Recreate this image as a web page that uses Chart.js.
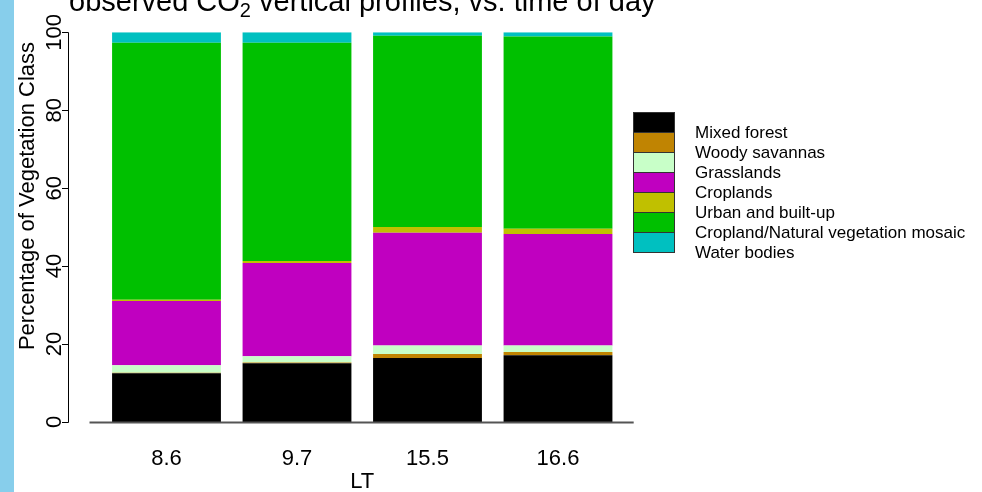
<!DOCTYPE html>
<html>
<head>
<meta charset="utf-8">
<title>Vegetation class by time of day</title>
<script src="https://cdn.jsdelivr.net/npm/chart.js@4/dist/chart.umd.min.js"></script>
<style>
  html, body { margin: 0; padding: 0; background: #ffffff; }
  #wrap { position: relative; width: 982px; height: 492px; }
  canvas { display: block; }
</style>
</head>
<body>
<div id="wrap"><canvas id="chart" width="982" height="492"></canvas></div>
<script>
// Local time of each profile (x categories)
const categories = ['8.6', '9.7', '15.5', '16.6'];

// Vegetation class names, bottom to top of each stack
const classNames = [
  'Mixed forest',
  'Woody savannas',
  'Grasslands',
  'Croplands',
  'Urban and built-up',
  'Cropland/Natural vegetation mosaic',
  'Water bodies'
];

// Percentage of each class per profile
const mixedForest   = [12.5, 15.1, 16.4, 17.1];
const woodySavannas = [0.15, 0.2, 1.05, 0.86];
const grasslands    = [1.9, 1.6, 2.2, 1.7];
const croplands     = [16.5, 23.9, 28.9, 28.6];
const urbanBuiltUp  = [0.3, 0.5, 1.5, 1.3];
const cropMosaic    = [66.0, 56.0, 49.05, 49.35];
const waterBodies   = [2.65, 2.7, 0.9, 1.1];

const yTickValues = [0, 20, 40, 60, 80, 100];

const classColors = ['#000000', '#C08402', '#C8FFC8', '#C000C0', '#C0C000', '#00C000', '#00C0C0'];

const seriesValues = [mixedForest, woodySavannas, grasslands, croplands, urbanBuiltUp, cropMosaic, waterBodies];

const FONT = '"Liberation Sans", Arial, Helvetica, sans-serif';

// Axes, labels, title and legend drawn in base-graphics style around the plot area
const frame = {
  id: 'frame',
  beforeDraw(chart) {
    const ctx = chart.ctx;
    ctx.save();
    ctx.fillStyle = '#87CEEB';
    ctx.fillRect(0, 0, 14, chart.height);
    ctx.restore();
  },
  afterDraw(chart) {
    const ctx = chart.ctx;
    const xs = chart.scales.x;
    const ys = chart.scales.y;
    const area = chart.chartArea;
    const catW = (area.right - area.left) / categories.length;
    const y0 = ys.getPixelForValue(0);
    const yTop = ys.getPixelForValue(100);

    ctx.save();

    // baseline under the bars
    const lineL = xs.getPixelForValue(0) - 0.59 * catW;
    const lineR = xs.getPixelForValue(categories.length - 1) + 0.58 * catW;
    ctx.strokeStyle = '#555555';
    ctx.lineWidth = 2;
    ctx.beginPath();
    ctx.moveTo(lineL, y0 + 0.5);
    ctx.lineTo(lineR, y0 + 0.5);
    ctx.stroke();

    // y axis
    const axX = 68.5;
    ctx.strokeStyle = '#000000';
    ctx.lineWidth = 1;
    ctx.beginPath();
    ctx.moveTo(axX, Math.round(y0) + 0.5);
    ctx.lineTo(axX, Math.round(yTop) + 0.5);
    yTickValues.forEach(v => {
      const py = Math.round(ys.getPixelForValue(v)) + 0.5;
      ctx.moveTo(axX, py);
      ctx.lineTo(62, py);
    });
    ctx.stroke();

    ctx.fillStyle = '#000000';
    ctx.font = '22px ' + FONT;
    ctx.textAlign = 'center';
    ctx.textBaseline = 'alphabetic';
    yTickValues.forEach(v => {
      const py = ys.getPixelForValue(v);
      ctx.save();
      ctx.translate(61, py);
      ctx.rotate(-Math.PI / 2);
      ctx.fillText(String(v), 0, 0);
      ctx.restore();
    });

    // y axis title
    ctx.save();
    ctx.translate(34, 196);
    ctx.rotate(-Math.PI / 2);
    ctx.fillText('Percentage of Vegetation Class', 0, 0);
    ctx.restore();

    // category labels and x axis title
    categories.forEach((c, i) => {
      ctx.fillText(c, xs.getPixelForValue(i), 465);
    });
    ctx.fillText('LT', (area.left + area.right) / 2, 488);

    // title with subscript
    const t1 = 'observed CO';
    const t2 = '2';
    const t3 = ' vertical profiles, vs. time of day';
    ctx.font = '29px ' + FONT;
    const w1 = ctx.measureText(t1).width;
    const w3 = ctx.measureText(t3).width;
    ctx.font = '20px ' + FONT;
    const w2 = ctx.measureText(t2).width;
    const total = w1 + w2 + w3;
    let tx = (area.left + area.right) / 2 - total / 2;
    ctx.textAlign = 'left';
    ctx.font = '29px ' + FONT;
    ctx.fillText(t1, tx, 11);
    tx += w1;
    ctx.font = '20px ' + FONT;
    ctx.fillText(t2, tx, 17);
    tx += w2;
    ctx.font = '29px ' + FONT;
    ctx.fillText(t3, tx, 11);

    // legend
    const boxL = 633.5, boxW = 41, boxTop = 112.5, boxH = 20;
    ctx.font = '17px ' + FONT;
    ctx.textAlign = 'left';
    classNames.forEach((name, i) => {
      const by = boxTop + i * boxH;
      ctx.fillStyle = classColors[i];
      ctx.fillRect(boxL, by, boxW, boxH);
      ctx.strokeStyle = '#333333';
      ctx.lineWidth = 1;
      ctx.strokeRect(boxL, by, boxW, boxH);
      ctx.fillStyle = '#000000';
      ctx.fillText(name, 695, by + boxH + 5.5);
    });

    ctx.restore();
  }
};

const datasets = classNames.map((name, i) => ({
  label: name,
  data: seriesValues[i],
  backgroundColor: classColors[i],
  borderWidth: 0,
  barPercentage: 0.834,
  categoryPercentage: 1.0
}));

new Chart(document.getElementById('chart'), {
  type: 'bar',
  data: { labels: categories, datasets },
  options: {
    responsive: false,
    animation: false,
    devicePixelRatio: 1,
    layout: { padding: { left: 101.25, right: 358.75, top: 32.3, bottom: 70 } },
    plugins: { legend: { display: false }, tooltip: { enabled: false } },
    scales: {
      x: { type: 'category', stacked: true, display: false, offset: true },
      y: { stacked: true, display: false, min: 0, max: 100 }
    }
  },
  plugins: [frame]
});
</script>
</body>
</html>
